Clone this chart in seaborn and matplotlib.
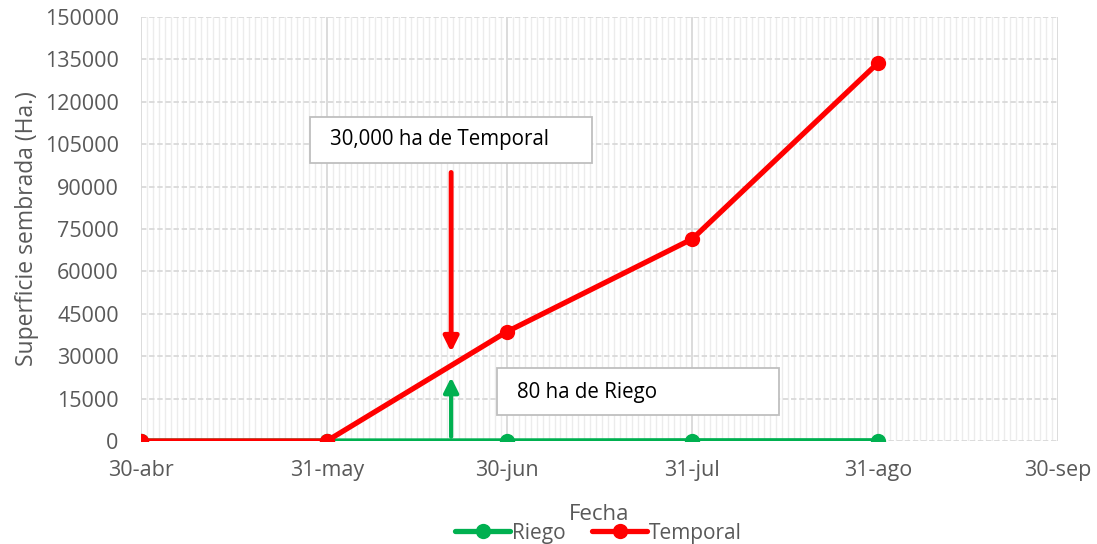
import pandas as pd
import numpy as np
import matplotlib
matplotlib.use("Agg")
import matplotlib.pyplot as plt
import matplotlib.dates as mdates
from matplotlib.patches import Rectangle
import seaborn as sns

# data
fechas = ["2021-04-30", "2021-05-31", "2021-06-30", "2021-07-31", "2021-08-31"]
riego = [0, 0, 30, 80, 80]
temporal = [0, 0, 38600, 71500, 133800]

tick_fechas = ["2021-04-30", "2021-05-31", "2021-06-30", "2021-07-31", "2021-08-31", "2021-09-30"]
tick_labels = ["30-abr", "31-may", "30-jun", "31-jul", "31-ago", "30-sep"]
y_ticks = list(range(0, 150001, 15000))

# annotation arrows
flecha_fecha = "2021-06-20 18:00"
flecha_temporal = (95000, 31500)
flecha_riego = (1500, 22500)
texto_temporal = "30,000 ha de Temporal"
texto_riego = "80 ha de Riego"

df = pd.DataFrame({"Fecha": pd.to_datetime(fechas), "Riego": riego, "Temporal": temporal})
long_df = df.melt(id_vars="Fecha", var_name="Serie", value_name="Superficie")

sns.set_style("white")
plt.rcParams["font.family"] = ["Open Sans", "DejaVu Sans"]

fig = plt.figure(figsize=(10.97, 5.44), dpi=100)
ax = fig.add_axes([0.1285, 0.1893, 0.8359, 0.7795])

sns.lineplot(data=long_df, x="Fecha", y="Superficie", hue="Serie",
             palette={"Riego": "#00B050", "Temporal": "#FF0000"},
             marker="o", markersize=11, markeredgewidth=0, linewidth=3.8,
             ax=ax, zorder=3)

x0 = pd.Timestamp(tick_fechas[0])
x1 = pd.Timestamp(tick_fechas[-1])
ax.set_xlim(x0, x1)
ax.set_ylim(0, 150000)
ax.set_xticks(pd.to_datetime(tick_fechas))
ax.set_xticklabels(tick_labels)
ax.xaxis.set_minor_locator(mdates.DayLocator())
ax.set_yticks(y_ticks)
ax.set_yticklabels([str(v) for v in y_ticks])

for s in ax.spines.values():
    s.set_visible(False)
ax.tick_params(axis="both", which="both", length=0, labelsize=15.5, colors="#595959")
ax.tick_params(axis="x", pad=14)
ax.tick_params(axis="y", pad=16)

ax.grid(False)
ax.xaxis.grid(True, which="minor", color="#ECECEC", linewidth=1)
ax.xaxis.grid(True, which="major", color="#D9D9D9", linewidth=1.3)
ax.yaxis.grid(True, which="major", color="#D9D9D9", linewidth=1.3, linestyle=(0, (3, 1.5)))
ax.set_axisbelow(True)

ax.set_xlabel("Fecha", fontsize=16, color="#595959", labelpad=16)
ax.set_ylabel("Superficie sembrada (Ha.)", fontsize=16.5, color="#595959", labelpad=4)

# arrows
fx = pd.Timestamp(flecha_fecha)
ax.annotate("", xy=(fx, flecha_temporal[1]), xytext=(fx, flecha_temporal[0]),
            arrowprops=dict(arrowstyle="-|>", color="#FF0000", lw=3.5,
                            mutation_scale=22, shrinkA=0, shrinkB=0), zorder=4)
ax.annotate("", xy=(fx, flecha_riego[1]), xytext=(fx, flecha_riego[0]),
            arrowprops=dict(arrowstyle="-|>", color="#00B050", lw=3,
                            mutation_scale=22, shrinkA=0, shrinkB=0), zorder=4)

# text boxes
ax.add_patch(Rectangle((0.1843, 0.6557), 0.3075, 0.1085, transform=ax.transAxes,
                       facecolor="white", edgecolor="#BFBFBF", linewidth=1.3, zorder=5))
ax.text(0.206, 0.712, texto_temporal, transform=ax.transAxes, fontsize=14.8,
        color="black", va="center", ha="left", zorder=6)
ax.add_patch(Rectangle((0.3882, 0.0613), 0.3075, 0.1109, transform=ax.transAxes,
                       facecolor="white", edgecolor="#BFBFBF", linewidth=1.3, zorder=5))
ax.text(0.41, 0.115, texto_riego, transform=ax.transAxes, fontsize=14.8,
        color="black", va="center", ha="left", zorder=6)

leg = ax.legend(loc="lower center", bbox_to_anchor=(0.499, -0.262), ncol=2, frameon=False,
                fontsize=15, handlelength=2.6, handletextpad=0.1, columnspacing=1.3,
                borderaxespad=0)
for t in leg.get_texts():
    t.set_color("#595959")

fig.savefig("out.png", dpi=100)
